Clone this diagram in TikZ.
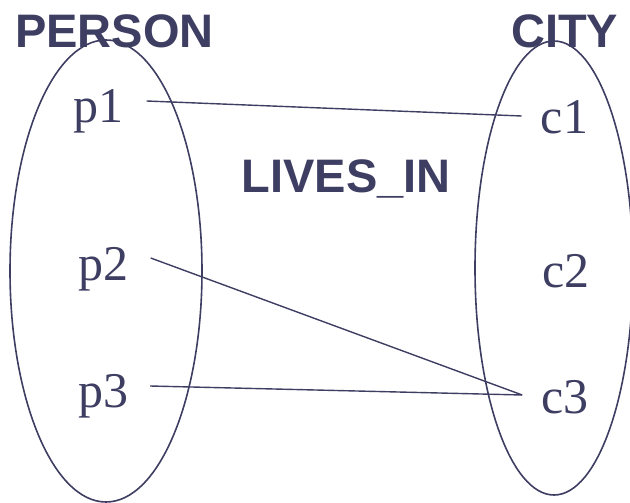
\documentclass[tikz,border=0pt]{standalone}
\usepackage{fontspec}
\setmainfont{Liberation Serif}
\newfontfamily\headfont{Liberation Sans}
\usetikzlibrary{shapes.geometric}
\definecolor{ink}{RGB}{62,62,99}
\tikzset{
  setshape/.style={draw=ink, ellipse, line width=1.6pt, inner sep=0pt},
  elem/.style={text=ink, font=\fontsize{50}{50}\selectfont, inner sep=0pt, anchor=base},
  head/.style={text=ink, font=\headfont\bfseries\fontsize{47}{47}\selectfont, inner sep=0pt},
  link/.style={draw=ink, line width=1.4pt}
}
\begin{document}
\begin{tikzpicture}[x=1pt, y=-1pt]
\useasboundingbox (0,0) rectangle (630,503);
\node[setshape, minimum width=192pt, minimum height=462pt] (P) at (106,271) {};
\node[setshape, minimum width=158pt, minimum height=454pt] (C) at (554,268) {};
\node[head, anchor=base west] (person) at (15,48) {PERSON};
\node[head, anchor=base west] (city) at (511,48) {CITY};
\node[head, anchor=base] (lives) at (346,193) {LIVES\_IN};
\node[elem] (p1) at (98.5,122) {p1};
\node[elem] (p2) at (103.5,280) {p2};
\node[elem] (p3) at (103,407) {p3};
\node[elem] (c1) at (564.5,133) {c1};
\node[elem] (c2) at (566,287) {c2};
\node[elem] (c3) at (565,413) {c3};
\coordinate (p1r) at ([shift={(23pt,21pt)}]p1.base east);
\coordinate (p2r) at ([shift={(22pt,22pt)}]p2.base east);
\coordinate (p3r) at ([shift={(22pt,21pt)}]p3.base east);
\coordinate (c1l) at ([shift={(-19pt,17pt)}]c1.base west);
\coordinate (c3l) at ([shift={(-19pt,18pt)}]c3.base west);
\draw[link] (p1r) -- (c1l);
\draw[link] (p2r) -- (c3l);
\draw[link] (p3r) -- (c3l);
\end{tikzpicture}
\end{document}
